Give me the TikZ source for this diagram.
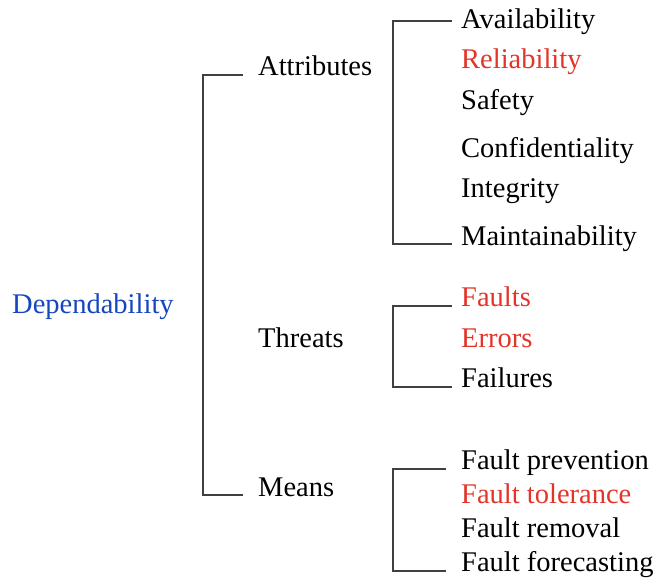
\documentclass[tikz,border=0pt]{standalone}
\usepackage{fontspec}
\setmainfont{Liberation Serif}
\definecolor{dred}{RGB}{226,52,40}
\definecolor{dblue}{RGB}{20,70,190}
\begin{document}
\begin{tikzpicture}[x=1pt,y=-1pt,
  lbl/.style={anchor=base west,inner sep=0pt,font=\fontsize{28.5}{34}\selectfont},
  hl/.style={text=dred},
  br/.style={draw=black!75,line width=1.3pt}]
\useasboundingbox (0,0) rectangle (655,579);
% root
\node[lbl,text=dblue] (dep) at (12,313) {Dependability};
% level 1
\node[lbl] (attr) at (258,75) {Attributes};
\node[lbl] (thr) at (258,347) {Threats};
\node[lbl] (mea) at (258,496) {Means};
% attributes
\node[lbl] (av) at (461,28) {Availability};
\node[lbl,hl] (re) at (461,68) {Reliability};
\node[lbl] (sa) at (461,109) {Safety};
\node[lbl] (co) at (461,157) {Confidentiality};
\node[lbl] (in) at (461,197) {Integrity};
\node[lbl] (ma) at (461,245) {Maintainability};
% threats
\node[lbl,hl] (fa) at (461,306) {Faults};
\node[lbl,hl] (er) at (461,347) {Errors};
\node[lbl] (fl) at (461,387) {Failures};
% means
\node[lbl] (fp) at (461,469) {Fault prevention};
\node[lbl,hl] (ft) at (461,503) {Fault tolerance};
\node[lbl] (fr) at (461,537) {Fault removal};
\node[lbl] (ff) at (461,571) {Fault forecasting};
% brackets
\coordinate (m1) at (243,75);
\coordinate (m2) at (243,495);
\draw[br] (m1) -- (203,75) -- (203,495) -- (m2);
\coordinate (a1) at (452,21);
\coordinate (a2) at (452,244);
\draw[br] (a1) -- (393,21) -- (393,244) -- (a2);
\coordinate (t1) at (452,306);
\coordinate (t2) at (452,387);
\draw[br] (t1) -- (393,306) -- (393,387) -- (t2);
\coordinate (n1) at (446,469);
\coordinate (n2) at (446,571);
\draw[br] (n1) -- (393,469) -- (393,571) -- (n2);
\end{tikzpicture}
\end{document}
